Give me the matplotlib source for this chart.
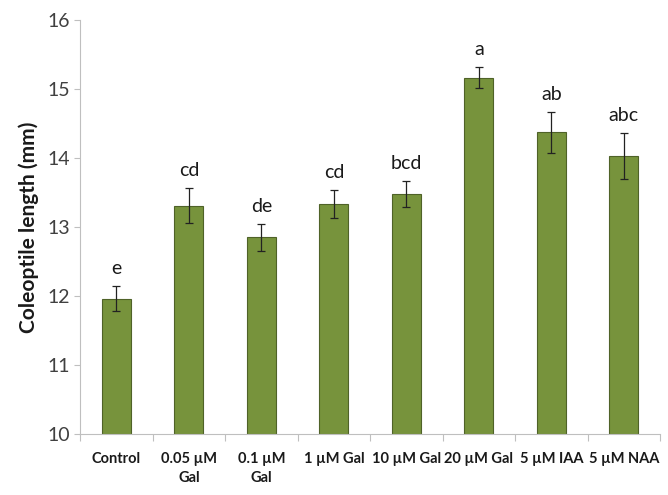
import matplotlib.pyplot as plt
import numpy as np

plt.rcParams['font.family'] = ['Lato', 'DejaVu Sans']

categories = ['Control', '0.05 µM\nGal', '0.1 µM\nGal', '1 µM Gal', '10 µM Gal',
              '20 µM Gal', '5 µM IAA', '5 µM NAA']
lengths = [11.96, 13.31, 12.85, 13.33, 13.48, 15.16, 14.37, 14.03]
errors = [0.18, 0.25, 0.20, 0.20, 0.19, 0.15, 0.30, 0.33]
letters = ['e', 'cd', 'de', 'cd', 'bcd', 'a', 'ab', 'abc']

fig = plt.figure(figsize=(6.68, 4.95), dpi=100)
ax = fig.add_axes([0.12, 0.123, 0.868, 0.837])

x = np.arange(len(categories))
ax.bar(x, [v - 10 for v in lengths], bottom=10, width=0.4, color='#77933C',
       edgecolor='#4F6228', linewidth=0.8, zorder=2)
ax.errorbar(x, lengths, yerr=errors, fmt='none', ecolor='#222222',
            elinewidth=0.9, capsize=3, capthick=0.9, zorder=3)

for xi, v, e, lab in zip(x, lengths, errors, letters):
    ax.text(xi, v + e + 0.13, lab, ha='center', va='bottom', fontsize=14,
            color='#1a1a1a')

ax.set_xlim(-0.5, len(categories) - 0.5)
ax.set_ylim(10, 16)
ax.set_yticks(range(10, 17))
ax.tick_params(axis='y', labelsize=14, colors='#404040', length=4, width=0.8,
               color='#bfbfbf')

ax.set_xticks(x)
ax.set_xticklabels(categories, fontsize=10.5, fontweight='bold', color='#1a1a1a',
                   linespacing=1.45)
ax.set_xticks(np.arange(-0.5, len(categories)), minor=True)
ax.tick_params(axis='x', which='major', length=0, pad=13)
ax.tick_params(axis='x', which='minor', length=5, width=0.8, color='#bfbfbf')

ax.set_ylabel('Coleoptile length (mm)', fontsize=15, fontweight='bold',
              color='#1a1a1a', labelpad=6)

for side in ['top', 'right']:
    ax.spines[side].set_visible(False)
for side in ['left', 'bottom']:
    ax.spines[side].set_color('#bfbfbf')
    ax.spines[side].set_linewidth(0.8)

fig.savefig('out.png', dpi=100)
